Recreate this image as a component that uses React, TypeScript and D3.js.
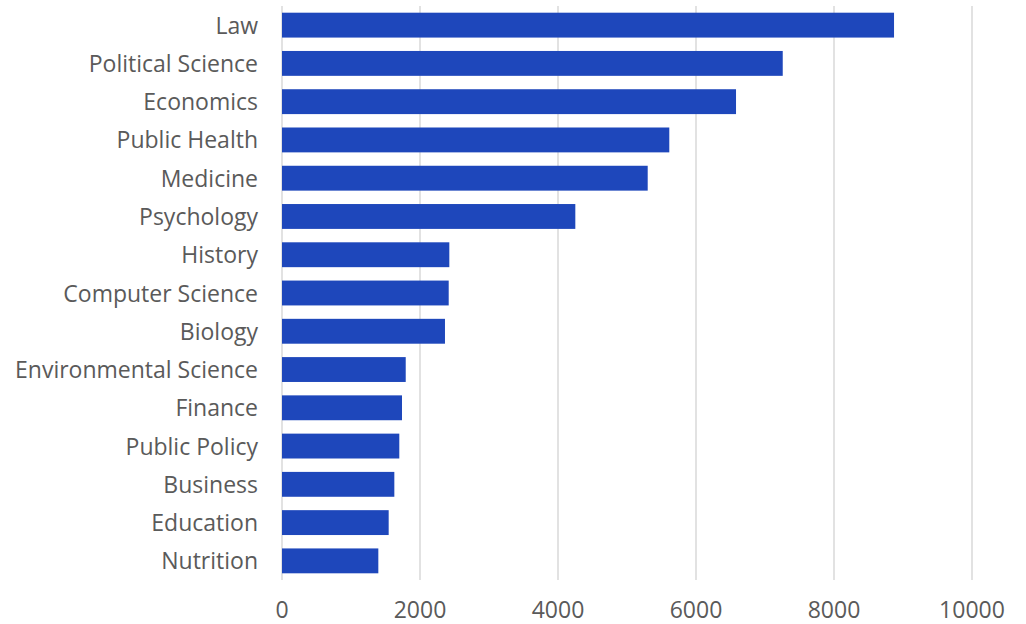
import React from "react";
import * as d3 from "d3";

const categories = [
  "Law",
  "Political Science",
  "Economics",
  "Public Health",
  "Medicine",
  "Psychology",
  "History",
  "Computer Science",
  "Biology",
  "Environmental Science",
  "Finance",
  "Public Policy",
  "Business",
  "Education",
  "Nutrition",
];
const values = [8870, 7257, 6580, 5613, 5300, 4251, 2425, 2416, 2362, 1793, 1739, 1700, 1628, 1546, 1396];
const xTicks = [0, 2000, 4000, 6000, 8000, 10000];

const W = 1026;
const H = 624;
const left = 282;
const right = 972;
const top = 6;
const bottom = 580;

export default function App() {
  const x = d3.scaleLinear().domain([0, 10000]).range([left, right]);
  const y = d3
    .scaleBand<string>()
    .domain(categories)
    .range([top, bottom])
    .paddingInner(0.35)
    .paddingOuter(0.175);
  const font = "'Open Sans', sans-serif";
  return (
    <div style={{ position: "fixed", left: 0, top: 0 }}>
      <svg width={W} height={H} style={{ display: "block" }}>
        <rect x={0} y={0} width={W} height={H} fill="#ffffff" />
        {xTicks.map((t) => (
          <line
            key={"g" + t}
            x1={x(t)}
            x2={x(t)}
            y1={top}
            y2={bottom}
            stroke="#d9d9d9"
            strokeWidth={1.5}
          />
        ))}
        {categories.map((c, i) => (
          <rect
            key={c}
            x={x(0)}
            y={y(c)}
            width={x(values[i]) - x(0)}
            height={y.bandwidth()}
            fill="#1e47bb"
          />
        ))}
        {categories.map((c) => (
          <text
            key={"l" + c}
            x={258}
            y={(y(c) as number) + y.bandwidth() / 2 + 8.5}
            textAnchor="end"
            fontFamily={font}
            fontSize={23}
            fill="#5a5a5a"
          >
            {c}
          </text>
        ))}
        {xTicks.map((t) => (
          <text
            key={"t" + t}
            x={x(t)}
            y={618}
            textAnchor="middle"
            fontFamily={font}
            fontSize={23}
            fill="#5a5a5a"
          >
            {t}
          </text>
        ))}
      </svg>
    </div>
  );
}
